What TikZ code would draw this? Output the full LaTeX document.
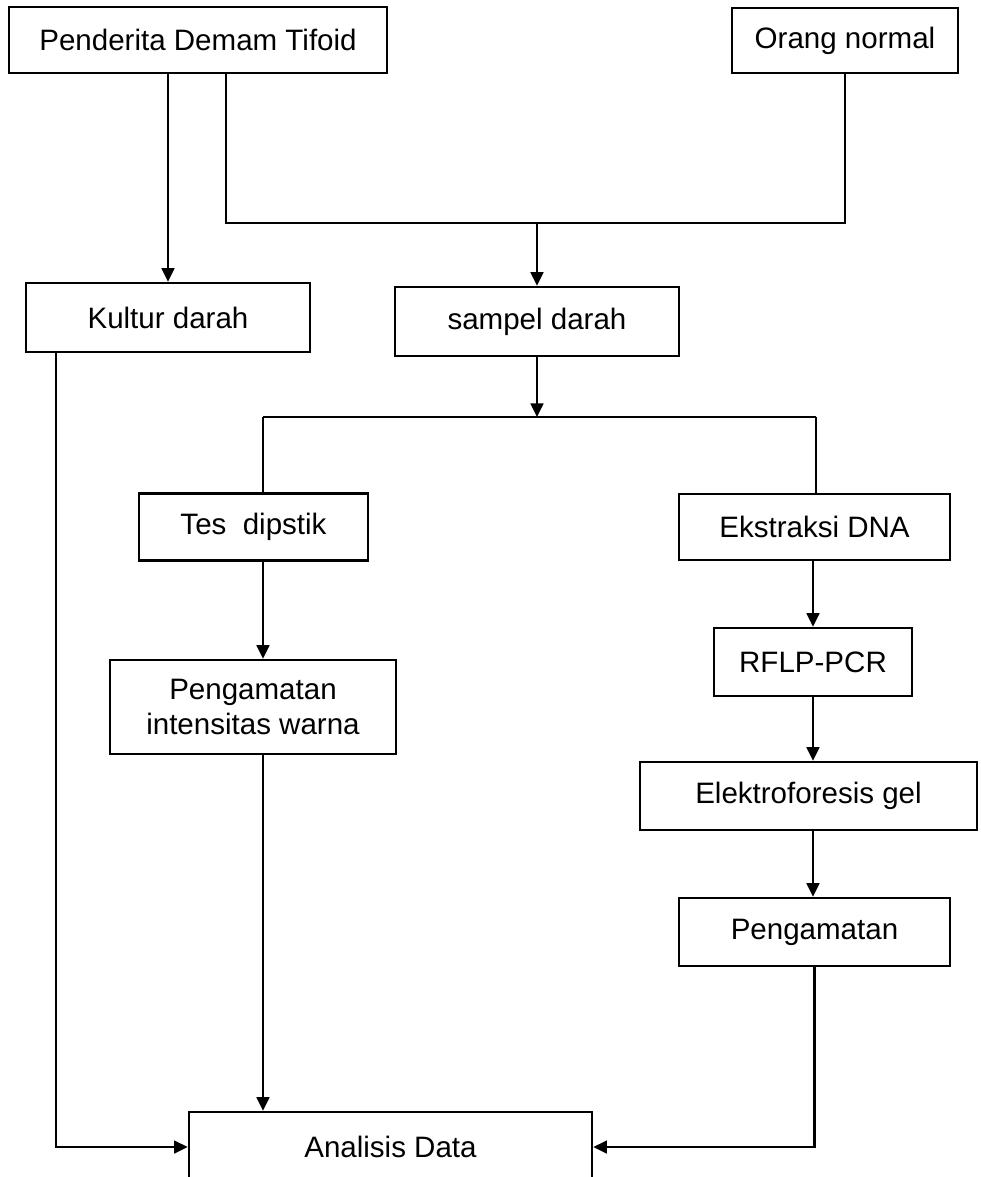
\documentclass[tikz,border=0pt]{standalone}
\usepackage{fontspec}
\setmainfont{Liberation Sans}
\usepackage{tikz}
\usetikzlibrary{arrows.meta,positioning,calc}
\tikzset{
  >={Triangle[length=3.4mm,width=3.2mm]},
  every picture/.append style={line width=1.5pt},
  every node/.append style={font=\fontsize{21}{25}\selectfont},
}
\tikzset{
  box/.style={draw, line width=1.8pt, align=center, inner sep=2pt},
  arrow/.style={->}
}

\begin{document}
\begin{tikzpicture}[x=0.025cm, y=-0.025cm]
\clip (0,0) rectangle (980,1177);

% ============= top row =============
\node[box, minimum width=9.45cm, minimum height=1.65cm] (pend) at (198,40) {Penderita Demam Tifoid};
\node[box, minimum width=5.65cm, minimum height=1.625cm] (orang) at (845,40.5) {Orang normal};

% ============= samples =============
\node[box, minimum width=7.1cm, minimum height=1.725cm] (kultur) at (168,317.5) {Kultur darah};
\node[box, minimum width=7.1cm, minimum height=1.725cm] (sampel) at (537,321.5) {sampel darah};

% ============= left branch =============
\node[box, minimum width=5.725cm, minimum height=1.675cm] (tes) at (253.5,527) {Tes~ dipstik};
\node[box, minimum width=7.15cm, minimum height=2.35cm] (intens) at (253,707) {Pengamatan\\intensitas warna};

% ============= right branch =============
\node[box, minimum width=6.775cm, minimum height=1.65cm] (ekstr) at (814.5,527) {Ekstraksi DNA};
\node[box, minimum width=4.95cm, minimum height=1.7cm] (rflp) at (813,662) {RFLP-PCR};
\node[box, minimum width=8.425cm, minimum height=1.7cm] (elek) at (808.5,796) {Elektroforesis gel};
\node[box, minimum width=6.775cm, minimum height=1.7cm] (peng) at (814.5,932) {Pengamatan};

% ============= result =============
\node[box, minimum width=10.075cm, minimum height=1.75cm] (anal) at (390.5,1147) {Analisis Data};

% junctions
\coordinate (c1) at (537,223);
\coordinate (c2) at (537,417);
\coordinate (bl) at (263,417);
\coordinate (br) at (816,417);
\coordinate (kl) at (56,1145);

% connectors
\draw[arrow] (pend.south -| kultur.north) -- (kultur.north);
\draw ([xshift=0.7cm]pend.south) |- (c1) -| (orang.south);
\draw[arrow] (c1) -- (sampel.north);
\draw[arrow] (sampel.south) -- (c2);
\draw (bl) -- (br);
\draw (bl) -- (tes.north -| bl);
\draw (br) -- (ekstr.north -| br);
\draw[arrow] (tes.south -| bl) -- (intens.north -| bl);
\draw[arrow] (ekstr.south -| rflp.north) -- (rflp.north);
\draw[arrow] (rflp.south) -- (elek.north -| rflp.south);
\draw[arrow] (elek.south -| rflp.south) -- (peng.north -| rflp.south);
\draw[arrow] (intens.south -| bl) -- (anal.north -| bl);
\draw[arrow] (kultur.south -| kl) |- (anal.west);
\draw[arrow] (peng.south) |- (anal.east);

\end{tikzpicture}
\end{document}
